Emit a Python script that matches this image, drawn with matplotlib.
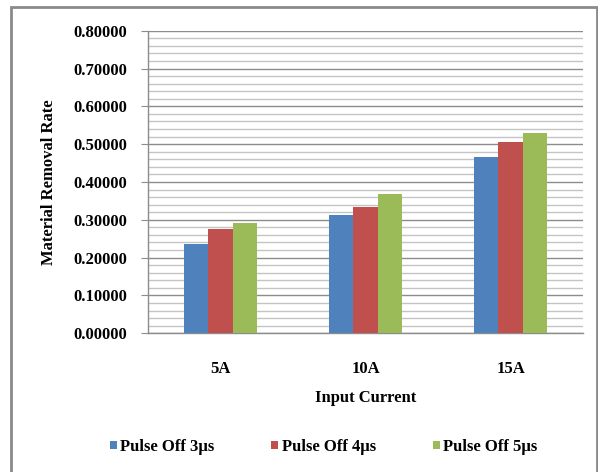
import matplotlib
matplotlib.use("Agg")
import matplotlib.pyplot as plt
import numpy as np
from matplotlib.patches import Rectangle

categories = ["5A", "10A", "15A"]
series_names = ["Pulse Off 3\u00b5s", "Pulse Off 4\u00b5s", "Pulse Off 5\u00b5s"]
pulse_off_3 = [0.2355, 0.3120, 0.4660]
pulse_off_4 = [0.2750, 0.3330, 0.5060]
pulse_off_5 = [0.2920, 0.3690, 0.5300]
colors = ["#4F81BD", "#C0504D", "#9BBB59"]
y_ticks = [0.0, 0.1, 0.2, 0.3, 0.4, 0.5, 0.6, 0.7, 0.8]

font = "Liberation Serif"
fs = 12

fig = plt.figure(figsize=(5.98, 4.72), dpi=100)
ax = fig.add_axes([0.2475, 0.2939, 0.7275, 0.6411])

x = np.arange(len(categories))
width = 0.167
for i, (vals, name, c) in enumerate(zip([pulse_off_3, pulse_off_4, pulse_off_5], series_names, colors)):
    ax.bar(x + (i - 1) * width, vals, width, color=c, label=name, zorder=3)

ax.set_xlim(-0.5, 2.5)
ax.set_ylim(0, 0.8)
ax.set_yticks(y_ticks)
ax.set_yticks(np.arange(0, 0.8001, 0.02), minor=True)
ax.set_yticklabels([f"{v:.5f}" for v in y_ticks], fontfamily=font, fontweight="bold", fontsize=fs)
ax.set_xticks(x)
ax.set_xticklabels(categories, fontfamily=font, fontweight="bold", fontsize=fs)

ax.grid(axis="y", which="major", color="#8c8c8c", linewidth=1.0, zorder=0)
ax.grid(axis="y", which="minor", color="#c4c4c4", linewidth=1.0, zorder=0)
ax.tick_params(axis="y", which="major", length=5, color="#8c8c8c", pad=10)
ax.tick_params(axis="y", which="minor", length=0)
ax.tick_params(axis="x", length=0, pad=20)

for s in ["top", "right"]:
    ax.spines[s].set_visible(False)
for s in ["left", "bottom"]:
    ax.spines[s].set_color("#8c8c8c")
    ax.spines[s].set_linewidth(1.0)

ax.set_xlabel("Input Current", fontfamily=font, fontweight="bold", fontsize=fs, labelpad=9)
ax.set_ylabel("Material Removal Rate", fontfamily=font, fontweight="bold", fontsize=fs, labelpad=12)

fig.legend(loc="center", bbox_to_anchor=(0.541, 0.053), ncol=3, frameon=False,
           prop={"family": font, "weight": "bold", "size": fs},
           handlelength=0.42, handleheight=0.42, handletextpad=0.22, columnspacing=3.4)

# outer chart frame
fig.patches.append(Rectangle((11 / 598, -0.05), (597 - 11) / 598, 1.05 - 7 / 472,
                             transform=fig.transFigure, fill=False,
                             edgecolor="#8a8a8a", linewidth=2.0))

fig.savefig("out.png", dpi=100)
